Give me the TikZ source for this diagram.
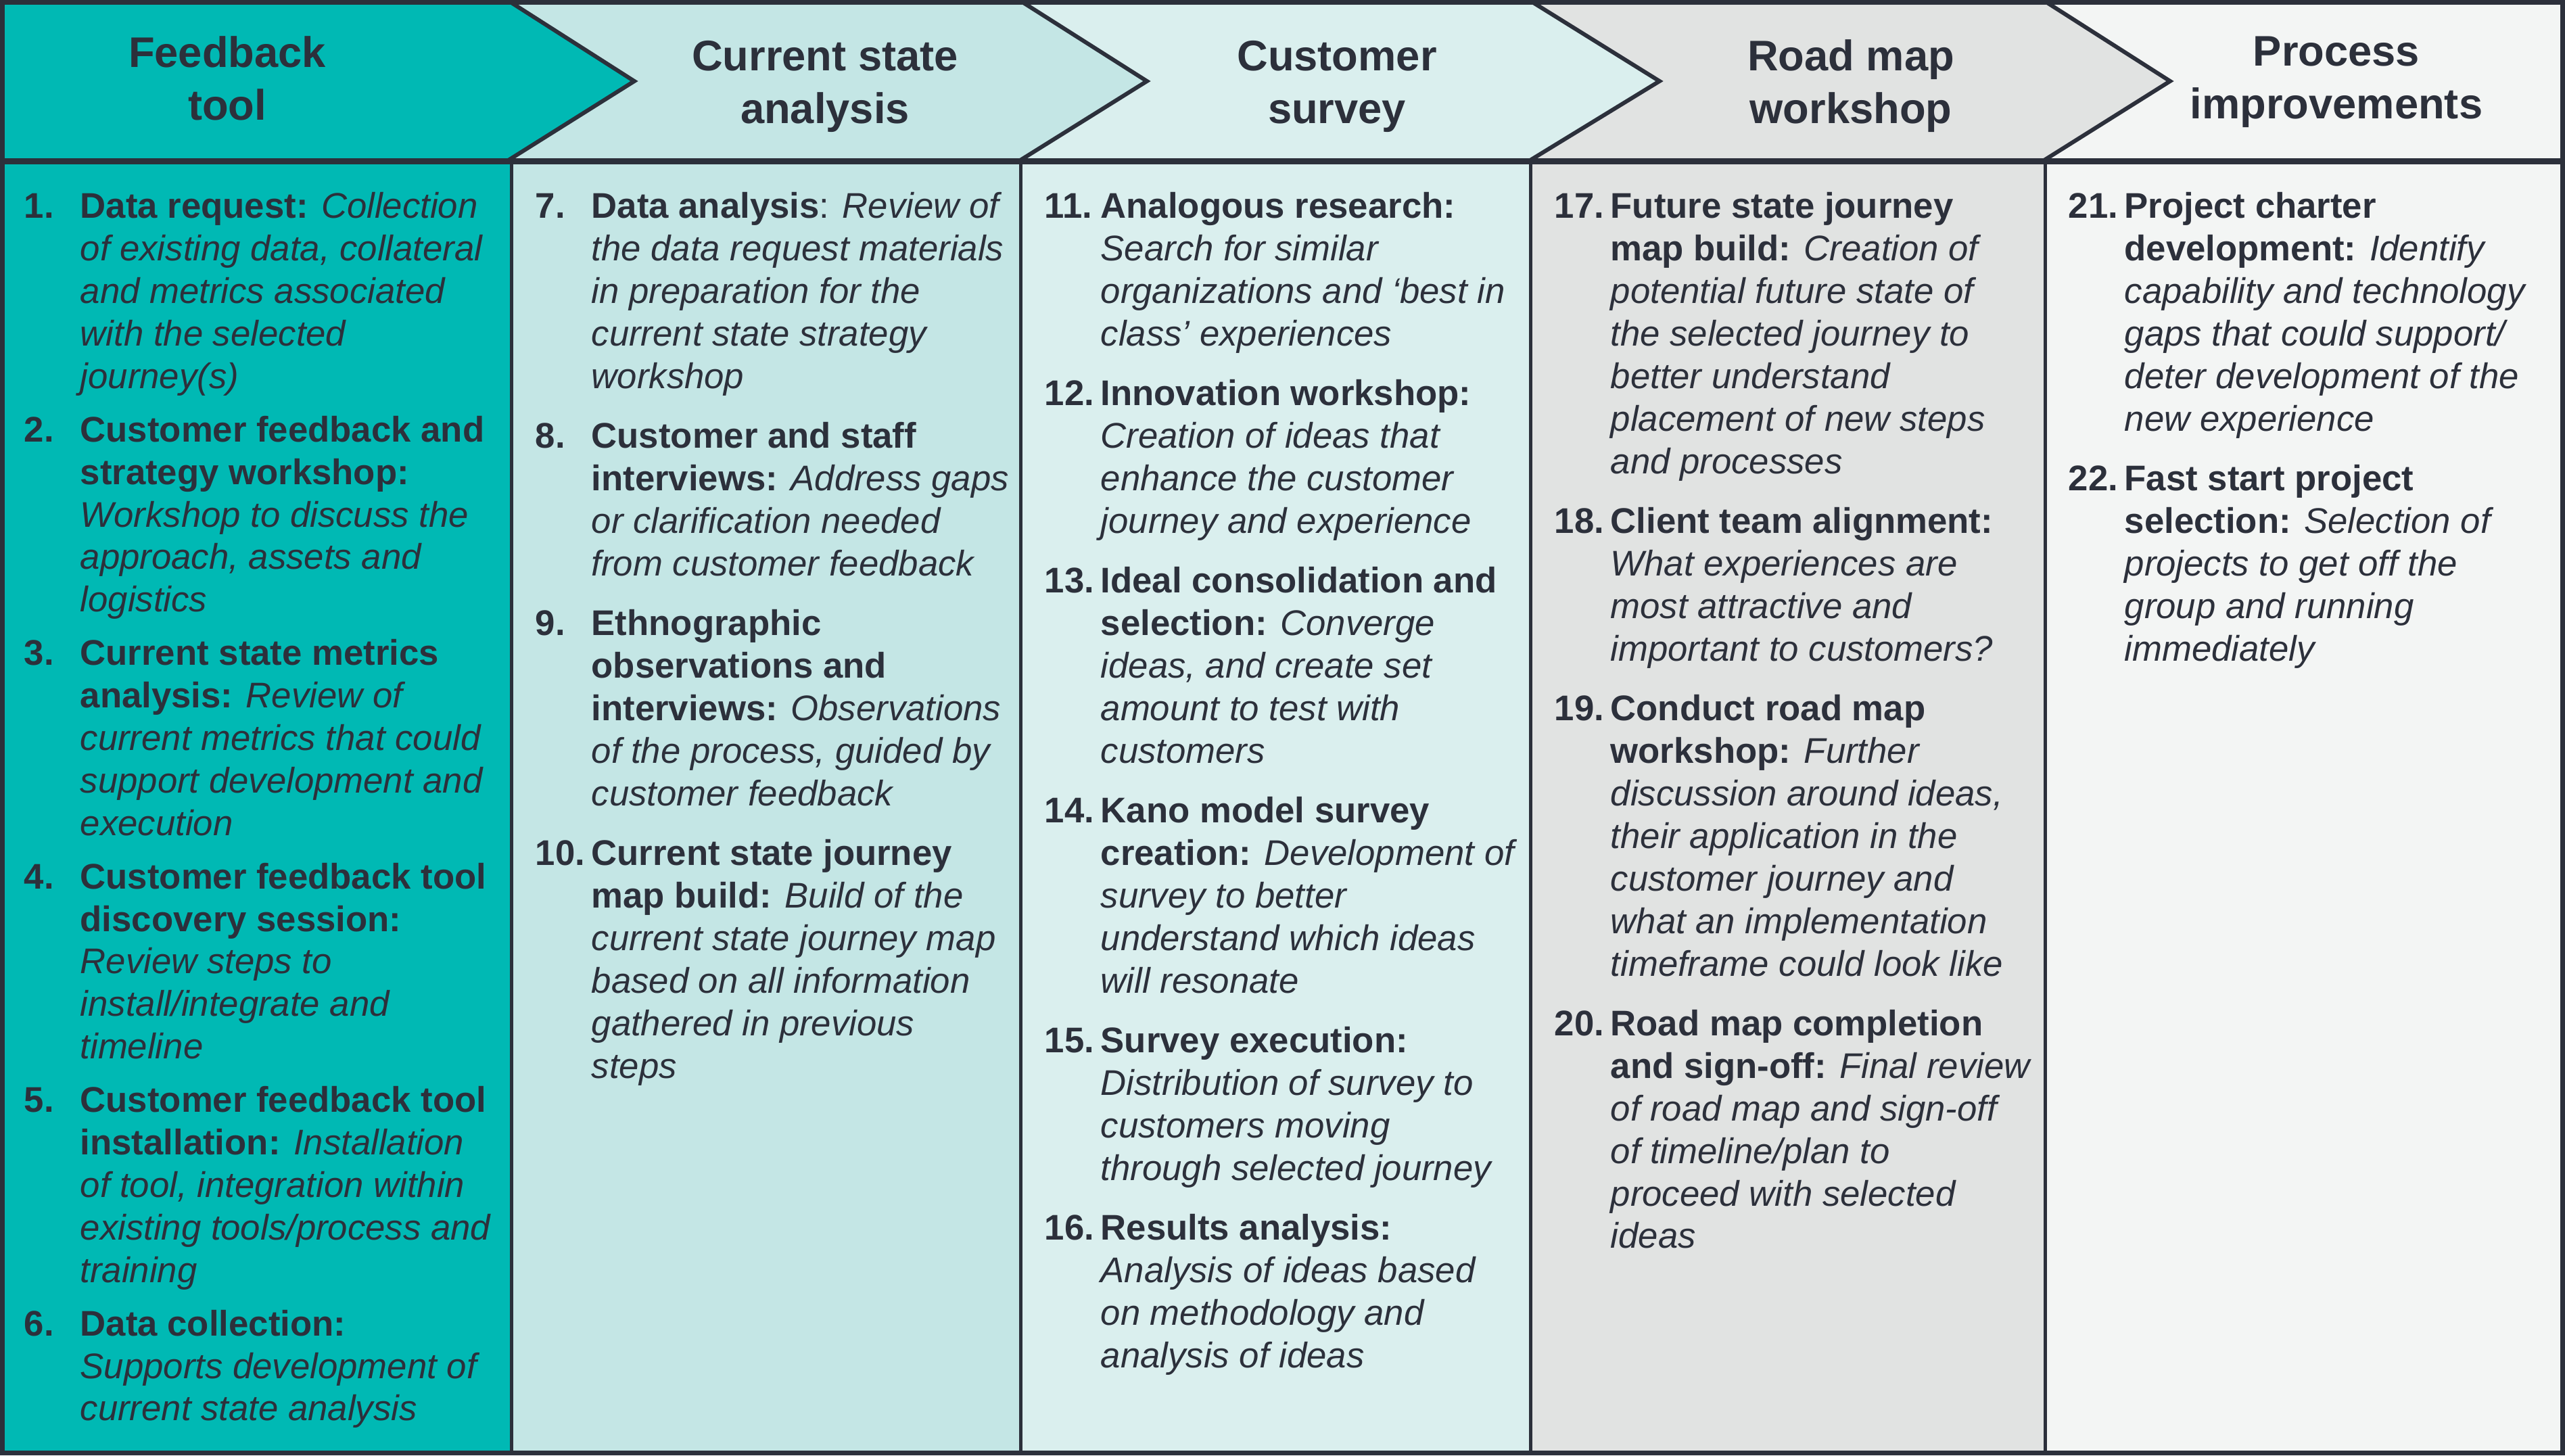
\documentclass[tikz,border=0pt]{standalone}
\usepackage{fontspec}
\setmainfont{Liberation Sans}
\usetikzlibrary{positioning}

\definecolor{ink}{HTML}{2C303B}
\definecolor{phaseA}{HTML}{00B9B4}
\definecolor{phaseB}{HTML}{C4E6E5}
\definecolor{phaseC}{HTML}{DAEFEE}
\definecolor{phaseD}{HTML}{E1E3E2}
\definecolor{phaseE}{HTML}{F3F5F4}

\tikzset{
	node distance=0.24cm, % space between two steps of a column
	frame/.style={draw=ink, line width=0.07cm}, % outer border
	divider/.style={draw=ink, line width=0.05cm}, % lines between the columns
	tipline/.style={draw=ink, line width=0.06cm, line join=miter}, % edges of the arrow heads
	phasetitle/.style={font=\bfseries\fontsize{18}{22.2}\selectfont, text=ink, align=center, inner sep=0pt}, % names of the phases
	task/.style={font=\fontsize{15}{17.9}\selectfont, text=ink, inner sep=0pt, anchor=north west}, % numbered steps
}
% number in front, text hanging beside it
\newcommand{\taskno}[2]{\makebox[0.83cm][l]{\bfseries #1}\parbox[t]{6.35cm}{\raggedright\strut #2\strut}}

\begin{document}
\begin{tikzpicture}
	\useasboundingbox (0,0) rectangle (37.93,-21.52);
	
	% column backgrounds
	\fill[phaseA] (0,-2.38) rectangle (7.56,-21.52);
	\fill[phaseB] (7.56,-2.38) rectangle (15.09,-21.52);
	\fill[phaseC] (15.09,-2.38) rectangle (22.63,-21.52);
	\fill[phaseD] (22.63,-2.38) rectangle (30.24,-21.52);
	\fill[phaseE] (30.24,-2.38) rectangle (37.93,-21.52);
	
	% chevrons
	\fill[phaseA] (0,0) -- (7.50,0) -- (9.38,-1.2) -- (7.50,-2.38) -- (0,-2.38) -- cycle;
	\fill[phaseB] (7.50,0) -- (15.07,0) -- (16.96,-1.2) -- (15.07,-2.38) -- (7.50,-2.38) -- (9.38,-1.2) -- cycle;
	\fill[phaseC] (15.07,0) -- (22.61,0) -- (24.54,-1.2) -- (22.61,-2.38) -- (15.07,-2.38) -- (16.96,-1.2) -- cycle;
	\fill[phaseD] (22.61,0) -- (30.21,0) -- (32.09,-1.2) -- (30.21,-2.38) -- (22.61,-2.38) -- (24.54,-1.2) -- cycle;
	\fill[phaseE] (30.21,0) -- (37.93,0) -- (37.93,-2.38) -- (30.21,-2.38) -- (32.09,-1.2) -- cycle;
	\draw[tipline] (7.50,0) -- (9.38,-1.2) -- (7.50,-2.38);
	\draw[tipline] (15.07,0) -- (16.96,-1.2) -- (15.07,-2.38);
	\draw[tipline] (22.61,0) -- (24.54,-1.2) -- (22.61,-2.38);
	\draw[tipline] (30.21,0) -- (32.09,-1.2) -- (30.21,-2.38);
	
	% lines
	\draw[divider] (7.56,-2.38) -- (7.56,-21.52);
	\draw[divider] (15.09,-2.38) -- (15.09,-21.52);
	\draw[divider] (22.63,-2.38) -- (22.63,-21.52);
	\draw[divider] (30.24,-2.38) -- (30.24,-21.52);
	\draw[ink, line width=0.09cm] (0,-2.38) -- (37.93,-2.38);
	\draw[frame] (0.035,-0.035) rectangle (37.895,-21.485);
	
	% Phase names
	\node[phasetitle] (h1) at (3.36,-1.23) {Feedback\strut\\tool\strut};
	\node[phasetitle] (h2) at (12.20,-1.28) {Current state\strut\\analysis\strut};
	\node[phasetitle] (h3) at (19.77,-1.28) {Customer\strut\\survey\strut};
	\node[phasetitle] (h4) at (27.37,-1.28) {Road map\strut\\workshop\strut};
	\node[phasetitle] (h5) at (34.55,-1.21) {Process\strut\\improvements\strut};
	
	% Feedback tool
	\node[task] (i1) at (0.35,-2.78) {\taskno{1.}{{\bfseries Data request:} {\itshape Collection\\of existing data, collateral\\and metrics associated\\with the selected\\journey(s)}}};
	\node[task, below=0.145cm of i1.south west, anchor=north west] (i2) {\taskno{2.}{{\bfseries Customer feedback and\\strategy workshop:}\\{\itshape Workshop to discuss the\\approach, assets and\\logistics}}};
	\node[task, below=0.145cm of i2.south west, anchor=north west] (i3) {\taskno{3.}{{\bfseries Current state metrics\\analysis:} {\itshape Review of\\current metrics that could\\support development and\\execution}}};
	\node[task, below=0.145cm of i3.south west, anchor=north west] (i4) {\taskno{4.}{{\bfseries Customer feedback tool\\discovery session:}\\{\itshape Review steps to\\install/integrate and\\timeline}}};
	\node[task, below=0.145cm of i4.south west, anchor=north west] (i5) {\taskno{5.}{{\bfseries Customer feedback tool\\installation:} {\itshape Installation\\of tool, integration within\\existing tools/process and\\training}}};
	\node[task, below=0.145cm of i5.south west, anchor=north west] (i6) {\taskno{6.}{{\bfseries Data collection:}\\{\itshape Supports development of\\current state analysis}}};
	
	% Current state analysis
	\node[task] (i7) at (7.91,-2.78) {\taskno{7.}{{\bfseries Data analysis}: {\itshape Review of\\the data request materials\\in preparation for the\\current state strategy\\workshop}}};
	\node[task, below=of i7.south west, anchor=north west] (i8) {\taskno{8.}{{\bfseries Customer and staff\\interviews:} {\itshape Address gaps\\or clarification needed\\from customer feedback}}};
	\node[task, below=of i8.south west, anchor=north west] (i9) {\taskno{9.}{{\bfseries Ethnographic\\observations and\\interviews:} {\itshape Observations\\of the process, guided by\\customer feedback}}};
	\node[task, below=of i9.south west, anchor=north west] (i10) {\taskno{10.}{{\bfseries Current state journey\\map build:} {\itshape Build of the\\current state journey map\\based on all information\\gathered in previous\\steps}}};
	
	% Customer survey
	\node[task] (i11) at (15.44,-2.78) {\taskno{11.}{{\bfseries Analogous research:}\\{\itshape Search for similar\\organizations and `best in\\class' experiences}}};
	\node[task, below=of i11.south west, anchor=north west] (i12) {\taskno{12.}{{\bfseries Innovation workshop:}\\{\itshape Creation of ideas that\\enhance the customer\\journey and experience}}};
	\node[task, below=of i12.south west, anchor=north west] (i13) {\taskno{13.}{{\bfseries Ideal consolidation and\\selection:} {\itshape Converge\\ideas, and create set\\amount to test with\\customers}}};
	\node[task, below=of i13.south west, anchor=north west] (i14) {\taskno{14.}{{\bfseries Kano model survey\\creation:} {\itshape Development of\\survey to better\\understand which ideas\\will resonate}}};
	\node[task, below=of i14.south west, anchor=north west] (i15) {\taskno{15.}{{\bfseries Survey execution:}\\{\itshape Distribution of survey to\\customers moving\\through selected journey}}};
	\node[task, below=of i15.south west, anchor=north west] (i16) {\taskno{16.}{{\bfseries Results analysis:}\\{\itshape Analysis of ideas based\\on methodology and\\analysis of ideas}}};
	
	% Road map workshop
	\node[task] (i17) at (22.98,-2.78) {\taskno{17.}{{\bfseries Future state journey\\map build:} {\itshape Creation of\\potential future state of\\the selected journey to\\better understand\\placement of new steps\\and processes}}};
	\node[task, below=of i17.south west, anchor=north west] (i18) {\taskno{18.}{{\bfseries Client team alignment:}\\{\itshape What experiences are\\most attractive and\\important to customers?}}};
	\node[task, below=of i18.south west, anchor=north west] (i19) {\taskno{19.}{{\bfseries Conduct road map\\workshop:} {\itshape Further\\discussion around ideas,\\their application in the\\customer journey and\\what an implementation\\timeframe could look like}}};
	\node[task, below=of i19.south west, anchor=north west] (i20) {\taskno{20.}{{\bfseries Road map completion\\and sign-off:} {\itshape Final review\\of road map and sign-off\\of timeline/plan to\\proceed with selected\\ideas}}};
	
	% Process improvements
	\node[task] (i21) at (30.58,-2.78) {\taskno{21.}{{\bfseries Project charter\\development:} {\itshape Identify\\capability and technology\\gaps that could support/\\deter development of the\\new experience}}};
	\node[task, below=of i21.south west, anchor=north west] (i22) {\taskno{22.}{{\bfseries Fast start project\\selection:} {\itshape Selection of\\projects to get off the\\group and running\\immediately}}};
	
\end{tikzpicture}
\end{document}
